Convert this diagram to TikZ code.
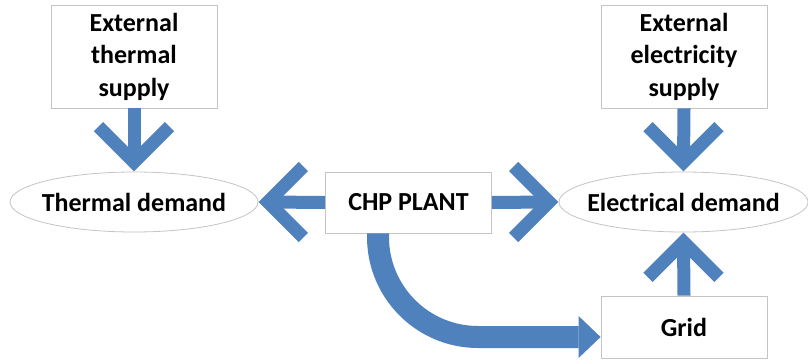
\documentclass[tikz,border=0pt]{standalone}
\usepackage{fontspec}
\setmainfont{Carlito}
\usetikzlibrary{shapes.geometric,arrows.meta,calc}
\definecolor{arrowblue}{RGB}{79,129,189}
\definecolor{edgegray}{RGB}{196,196,196}
\begin{document}
\begin{tikzpicture}[x=1pt,y=-1pt,
  lbl/.style={font=\fontsize{26}{32.5}\selectfont\bfseries, text=black},
  box/.style={lbl, draw=edgegray, line width=0.8pt, fill=white, minimum width=166pt, inner sep=0pt, align=center},
  oval/.style={ellipse, draw=edgegray, line width=0.8pt, fill=white, inner sep=0pt,
    label={[lbl]center:#1}},
  shaft/.style={draw=arrowblue, line width=13pt, line cap=butt},
  chev/.style={draw=arrowblue, line width=13pt, line join=miter, line cap=butt},
  bigarrow/.style={draw=arrowblue, line width=22pt, rounded corners=100pt,
    -{Triangle[length=22pt, width=42pt, line width=0pt]}}
]
\useasboundingbox (0,0) rectangle (808,361);

\node[box, minimum height=103pt] (ets) at (134,56.5) {External\\thermal\\supply};
\node[oval={Thermal demand}, minimum width=248pt, minimum height=60pt] (td) at (134,202) {};
\node[box, minimum height=61pt] (chp) at (408.5,202.5) {CHP PLANT};
\node[oval={Electrical demand}, minimum width=249pt, minimum height=60pt] (ed) at (683.5,202) {};
\node[box, minimum height=103pt] (ees) at (684,56.5) {External\\electricity\\supply};
\node[box, minimum height=62pt] (grid) at (684,327) {Grid};

% external thermal supply -> thermal demand
\draw[shaft] (ets.south) -- ($(td.north)+(0,-9.5)$);
\draw[chev] ($(td.north)+(-35.5,-45)$) -- ($(td.north)+(0,-9.5)$) -- ($(td.north)+(35.5,-45)$);

% external electricity supply -> electrical demand
\draw[shaft] (ees.south) -- ($(ed.north)+(0,-9.5)$);
\draw[chev] ($(ed.north)+(-35.5,-45)$) -- ($(ed.north)+(0,-9.5)$) -- ($(ed.north)+(35.5,-45)$);

% CHP -> thermal demand
\draw[shaft] (chp.west) -- ($(td.east)+(9.5,0)$);
\draw[chev] ($(td.east)+(45,-35.5)$) -- ($(td.east)+(9.5,0)$) -- ($(td.east)+(45,35.5)$);

% CHP -> electrical demand
\draw[shaft] (chp.east) -- ($(ed.west)+(-9.5,0)$);
\draw[chev] ($(ed.west)+(-45,-35.5)$) -- ($(ed.west)+(-9.5,0)$) -- ($(ed.west)+(-45,35.5)$);

% grid -> electrical demand
\draw[shaft] (grid.north) -- ($(ed.south)+(0,9.5)$);
\draw[chev] ($(ed.south)+(-35.5,45)$) -- ($(ed.south)+(0,9.5)$) -- ($(ed.south)+(35.5,45)$);

% CHP -> grid (curved)
\draw[bigarrow] ([xshift=-30.5pt]chp.south) |- ([yshift=-10pt]grid.west);
\end{tikzpicture}
\end{document}
